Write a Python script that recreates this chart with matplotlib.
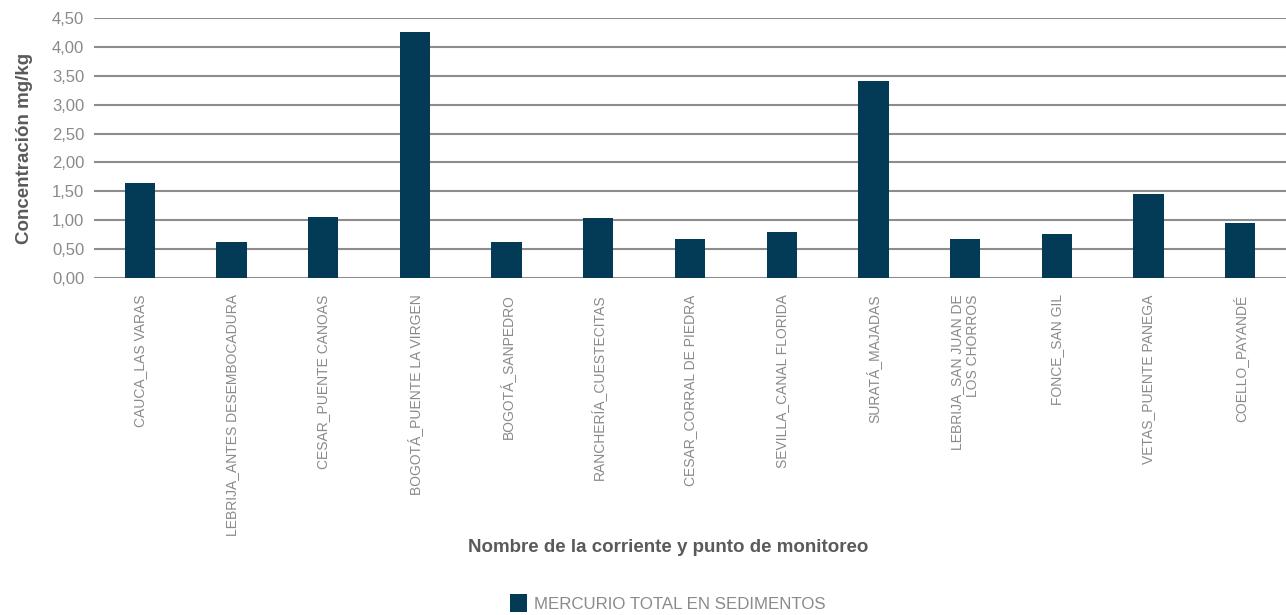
import matplotlib
matplotlib.use("Agg")
import matplotlib.pyplot as plt
from matplotlib.patches import Patch

plt.rcParams['font.family'] = ['Liberation Sans', 'DejaVu Sans']

puntos = [
    "CAUCA_LAS VARAS",
    "LEBRIJA_ANTES DESEMBOCADURA",
    "CESAR_PUENTE CANOAS",
    "BOGOTÁ_PUENTE LA VIRGEN",
    "BOGOTÁ_SANPEDRO",
    "RANCHERÍA_CUESTECITAS",
    "CESAR_CORRAL DE PIEDRA",
    "SEVILLA_CANAL FLORIDA",
    "SURATÁ_MAJADAS",
    "LEBRIJA_SAN JUAN DE\nLOS CHORROS",
    "FONCE_SAN GIL",
    "VETAS_PUENTE PANEGA",
    "COELLO_PAYANDÉ",
]
mercurio = [1.64, 0.62, 1.05, 4.27, 0.62, 1.04, 0.67, 0.79, 3.41, 0.67, 0.76, 1.45, 0.95]
y_ticks = [0.0, 0.5, 1.0, 1.5, 2.0, 2.5, 3.0, 3.5, 4.0, 4.5]

bar_color = "#033a55"
grid_color = "#8c8c8c"
tick_color = "#8a8a8a"
title_color = "#5a5a5a"

fig = plt.figure(figsize=(12.86, 6.15), dpi=100)
ax = fig.add_axes([0.0731, 0.5485, 0.9269, 0.4217])

x = list(range(len(puntos)))
ax.bar(x, mercurio, width=0.33, color=bar_color, zorder=3)
ax.set_xlim(-0.5, len(puntos) - 0.5)
ax.set_ylim(0, 4.5)
ax.set_yticks(y_ticks)
ax.set_yticklabels([f"{v:.2f}".replace(".", ",") for v in y_ticks],
                   fontsize=12, color=tick_color)
ax.yaxis.grid(True, color=grid_color, linewidth=1.5, zorder=0)
ax.set_xticks(x)
ax.set_xticklabels(puntos, rotation=90, fontsize=10, color=tick_color,
                   va="top", ha="center", multialignment="right")
ax.tick_params(axis="x", length=0, pad=12)
ax.tick_params(axis="y", length=0, pad=7)
for s in ax.spines.values():
    s.set_visible(False)

ax.set_ylabel("Concentración mg/kg", fontsize=13.5, fontweight="bold",
              color=title_color)
ax.yaxis.set_label_coords((33 - 94) / 1192, 0.5)

fig.text(668 / 1286, 1 - 547 / 615, "Nombre de la corriente y punto de monitoreo",
         ha="center", va="center", fontsize=13.5, fontweight="bold", color=title_color)

handle = Patch(facecolor=bar_color, edgecolor="none")
fig.legend([handle], ["MERCURIO TOTAL EN SEDIMENTOS"], loc="center",
           bbox_to_anchor=(668 / 1286, 1 - 603 / 615), frameon=False,
           fontsize=12.2, labelcolor=tick_color, handlelength=1.0,
           handleheight=1.25, handletextpad=0.45)

fig.savefig("out.png", dpi=100)
